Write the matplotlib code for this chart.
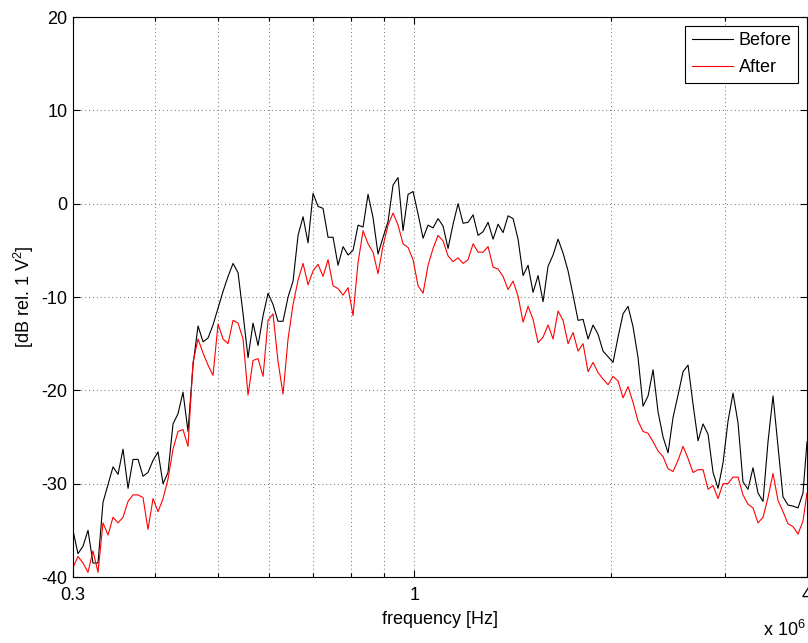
import matplotlib
matplotlib.use('Agg')
import matplotlib.pyplot as plt
from matplotlib.ticker import FixedLocator, NullFormatter

# spectrum samples, frequency in MHz
freq_mhz = [
    0.3000, 0.3053, 0.3108, 0.3163, 0.3219, 0.3277, 0.3335, 0.3395, 0.3455, 0.3517,
    0.3579, 0.3643, 0.3708, 0.3774, 0.3841, 0.3909, 0.3979, 0.4050, 0.4122, 0.4195,
    0.4270, 0.4346, 0.4423, 0.4502, 0.4582, 0.4664, 0.4747, 0.4831, 0.4917, 0.5005,
    0.5094, 0.5185, 0.5277, 0.5371, 0.5467, 0.5564, 0.5663, 0.5764, 0.5867, 0.5971,
    0.6077, 0.6185, 0.6295, 0.6408, 0.6522, 0.6638, 0.6756, 0.6876, 0.6999, 0.7123,
    0.7250, 0.7379, 0.7511, 0.7644, 0.7781, 0.7919, 0.8060, 0.8204, 0.8350, 0.8498,
    0.8649, 0.8803, 0.8960, 0.9120, 0.9282, 0.9447, 0.9615, 0.9787, 0.9961, 1.0138,
    1.0319, 1.0502, 1.0689, 1.0880, 1.1073, 1.1271, 1.1471, 1.1676, 1.1884, 1.2095,
    1.2311, 1.2530, 1.2753, 1.2980, 1.3211, 1.3446, 1.3685, 1.3929, 1.4177, 1.4429,
    1.4686, 1.4947, 1.5213, 1.5484, 1.5760, 1.6040, 1.6326, 1.6616, 1.6912, 1.7213,
    1.7519, 1.7831, 1.8149, 1.8472, 1.8800, 1.9135, 1.9476, 1.9822, 2.0175, 2.0534,
    2.0900, 2.1272, 2.1651, 2.2036, 2.2428, 2.2828, 2.3234, 2.3647, 2.4068, 2.4497,
    2.4933, 2.5376, 2.5828, 2.6288, 2.6756, 2.7232, 2.7717, 2.8210, 2.8712, 2.9223,
    2.974, 3.027, 3.081, 3.136, 3.191, 3.248, 3.306, 3.365, 3.425, 3.486,
    3.548, 3.611, 3.675, 3.741, 3.807, 3.875, 3.944, 4.000,
]

before_db = [
    -35.0, -37.5, -36.7, -35.0, -38.5, -38.5, -32.0, -30.1, -28.2, -29.0,
    -26.3, -30.5, -27.4, -27.4, -29.2, -28.8, -27.5, -26.6, -30.0, -28.8,
    -23.6, -22.5, -20.2, -24.4, -17.3, -13.1, -14.8, -14.4, -13.0, -11.2,
    -9.4, -7.8, -6.4, -7.4, -11.8, -16.5, -12.8, -15.2, -12.0, -9.6,
    -10.8, -12.6, -12.6, -10.0, -8.3, -3.4, -1.4, -4.2, 1.1, -0.3,
    -0.5, -3.6, -3.6, -6.6, -4.6, -5.5, -5.0, -2.3, -2.5, 1.0,
    -1.5, -5.4, -3.6, -1.9, 2.0, 2.8, -2.9, 1.0, 1.3, -1.1,
    -3.7, -2.3, -2.6, -1.6, -2.4, -4.8, -2.2, 0.0, -2.1, -2.0,
    -1.2, -3.4, -3.0, -2.0, -3.8, -2.2, -3.1, -1.3, -1.6, -3.8,
    -7.7, -6.6, -9.5, -7.7, -10.5, -6.7, -5.5, -3.8, -5.3, -7.2,
    -9.8, -12.5, -12.4, -14.5, -13.0, -14.0, -15.8, -16.4, -17.0, -14.3,
    -11.8, -11.0, -13.2, -16.5, -21.7, -20.6, -17.8, -22.3, -25.0, -26.7,
    -22.9, -20.5, -18.0, -17.3, -21.5, -25.4, -23.6, -24.7, -28.8, -30.5,
    -27.8, -23.3, -20.3, -23.5, -29.8, -30.6, -28.3, -31.0, -31.9, -25.5,
    -20.6, -26.0, -31.4, -32.3, -32.4, -32.6, -31.0, -25.5,
]

after_db = [
    -39.0, -37.8, -38.5, -39.5, -37.2, -39.5, -34.2, -35.5, -33.6, -34.2,
    -33.6, -31.9, -31.2, -31.2, -31.5, -34.9, -31.6, -33.0, -31.6, -29.5,
    -26.3, -24.4, -24.2, -26.0, -17.0, -14.5, -16.0, -17.3, -18.4, -12.9,
    -14.5, -15.0, -12.5, -12.8, -14.5, -20.5, -16.8, -16.6, -18.5, -12.5,
    -11.8, -16.9, -20.4, -14.5, -10.8, -8.2, -6.4, -8.7, -7.2, -6.5,
    -7.8, -6.0, -8.8, -9.1, -9.8, -9.0, -12.0, -6.3, -2.9, -4.3,
    -5.2, -7.5, -4.5, -2.3, -1.0, -2.3, -4.3, -4.7, -6.0, -8.8,
    -9.6, -6.6, -4.8, -3.4, -4.0, -5.6, -6.2, -5.8, -6.4, -6.0,
    -4.3, -5.2, -5.2, -4.6, -6.8, -7.0, -7.8, -9.2, -8.3, -9.9,
    -12.7, -11.0, -12.4, -14.9, -14.3, -13.0, -14.5, -11.5, -12.5, -15.0,
    -13.8, -15.8, -15.0, -18.0, -17.0, -18.1, -18.8, -19.4, -18.5, -19.0,
    -20.8, -19.6, -21.3, -23.3, -24.4, -24.6, -25.5, -26.5, -27.1, -28.4,
    -28.7, -27.5, -26.0, -27.3, -28.8, -28.5, -28.5, -30.6, -30.2, -31.6,
    -30.0, -30.0, -29.3, -29.3, -31.2, -32.2, -32.6, -34.2, -33.6, -31.5,
    -28.9, -31.8, -33.0, -34.3, -34.6, -35.4, -34.0, -31.0,
]

major_ticks = [0.3, 1, 4]
major_labels = ['0.3', '1', '4']
minor_ticks = [0.4, 0.5, 0.6, 0.7, 0.8, 0.9, 2, 3]
y_ticks = [-40, -30, -20, -10, 0, 10, 20]

plt.rcParams['font.family'] = ['Liberation Sans', 'DejaVu Sans']
plt.rcParams['mathtext.default'] = 'regular'
plt.rcParams['axes.unicode_minus'] = False

fig = plt.figure(figsize=(8.08, 6.43), dpi=100)
ax = fig.add_axes([73 / 808, 66 / 643, 734 / 808, 560 / 643])

ax.plot(freq_mhz, before_db, color='k', lw=0.8, label='Before')
ax.plot(freq_mhz, after_db, color='r', lw=0.8, label='After')

ax.set_xscale('log')
ax.set_xlim(0.3, 4)
ax.set_ylim(-40, 20)
ax.xaxis.set_major_locator(FixedLocator(major_ticks))
ax.set_xticklabels(major_labels)
ax.xaxis.set_minor_locator(FixedLocator(minor_ticks))
ax.xaxis.set_minor_formatter(NullFormatter())
ax.set_yticks(y_ticks)

ax.grid(True, which='both', linestyle=(0, (1, 3)), color='#707070', lw=0.7)
ax.tick_params(which='both', direction='in', top=True, right=True,
               labelsize=13, colors='k', width=0.8)
ax.tick_params(which='major', length=5)
ax.tick_params(which='minor', length=3)
ax.tick_params(axis='x', pad=7)
ax.tick_params(axis='y', pad=4)
for s in ax.spines.values():
    s.set_linewidth(0.8)

ax.set_xlabel('frequency [Hz]', fontsize=13, labelpad=5)
ax.set_ylabel('[dB rel. 1 V$^2$]', fontsize=13, labelpad=4)
fig.text(806 / 808, 3 / 643, 'x 10$^6$', fontsize=13, ha='right', va='bottom')

leg = ax.legend(loc='upper right', fontsize=13, fancybox=False, edgecolor='k',
                framealpha=1, borderaxespad=0.5, borderpad=0.35, labelspacing=0.55,
                handlelength=2.3, handletextpad=0.3)
leg.get_frame().set_linewidth(0.8)

fig.savefig('out.png', dpi=100)
